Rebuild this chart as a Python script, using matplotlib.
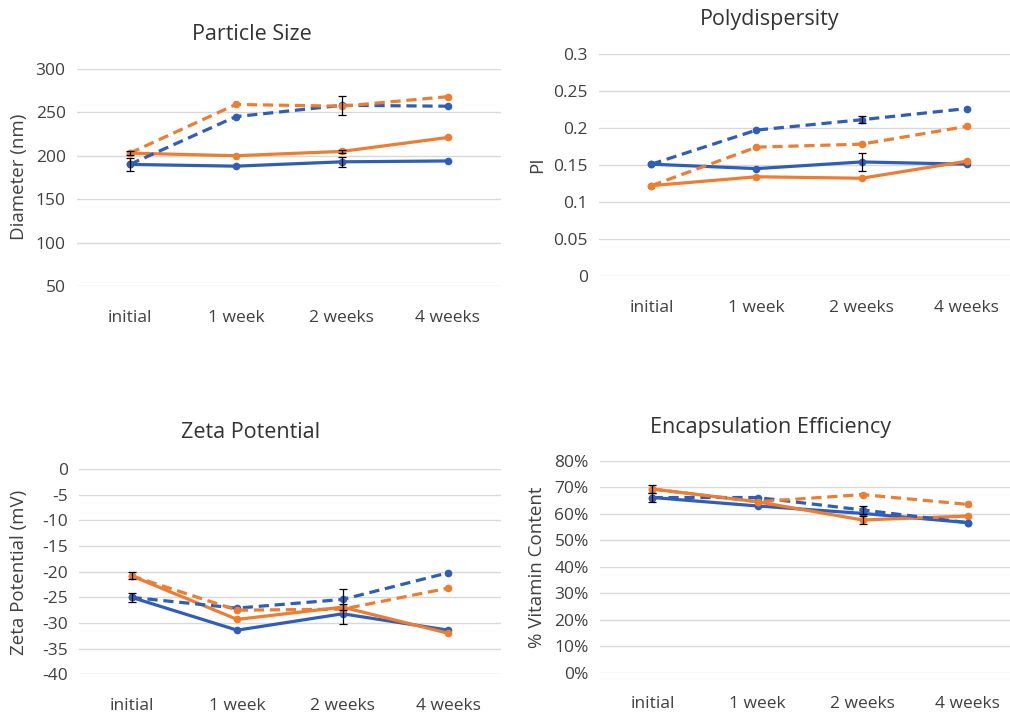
import matplotlib.pyplot as plt
from matplotlib.ticker import FuncFormatter

plt.rcParams['font.family'] = ['Open Sans', 'DejaVu Sans']
plt.rcParams['axes.unicode_minus'] = False

# time points
labels = ["initial", "1 week", "2 weeks", "4 weeks"]

# particle size (nm)
size_blue = [190, 188, 193, 194]
size_orange = [203, 200, 205, 221]
size_blue_d = [190, 245, 258, 257]
size_orange_d = [203, 259, 257, 268]
size_blue_err = [7, 0, 6, 0]
size_orange_err = [0, 0, 2, 0]
size_blue_d_err = [0, 0, 11, 0]
size_orange_d_err = [2, 0, 0, 0]

# polydispersity
pi_blue = [0.151, 0.145, 0.154, 0.151]
pi_orange = [0.122, 0.134, 0.132, 0.155]
pi_blue_d = [0.151, 0.197, 0.211, 0.226]
pi_orange_d = [0.122, 0.174, 0.178, 0.202]
pi_blue_err = [0, 0, 0.012, 0]
pi_orange_err = [0, 0, 0, 0]
pi_blue_d_err = [0, 0, 0.005, 0]
pi_orange_d_err = [0, 0, 0, 0]

# zeta potential (mV)
zeta_blue = [-25.0, -31.4, -28.2, -31.4]
zeta_orange = [-20.8, -29.3, -26.9, -32.0]
zeta_blue_d = [-25.0, -27.1, -25.4, -20.2]
zeta_orange_d = [-20.8, -27.5, -27.3, -23.2]
zeta_blue_err = [0.9, 0, 2.0, 0]
zeta_orange_err = [0.7, 0, 0, 0]
zeta_blue_d_err = [0, 0, 2.0, 0]
zeta_orange_d_err = [0, 0, 0, 0]

# encapsulation efficiency (fraction)
ee_blue = [0.662, 0.630, 0.602, 0.567]
ee_orange = [0.694, 0.646, 0.577, 0.592]
ee_blue_d = [0.662, 0.662, 0.615, 0.567]
ee_orange_d = [0.694, 0.646, 0.673, 0.636]
ee_blue_err = [0.018, 0, 0, 0]
ee_orange_err = [0.016, 0, 0.014, 0]
ee_blue_d_err = [0, 0, 0.014, 0]
ee_orange_d_err = [0, 0, 0, 0]

blue = "#2F5EBA"
orange = "#ED7D31"
grey = "#404040"

fig = plt.figure(figsize=(10.1, 7.17), dpi=100)


def panel(rect, series, ylim, ticks, fmt=None):
    ax = fig.add_axes(rect)
    x = list(range(len(labels)))
    for vals, err, color, ls in series:
        ax.plot(x, vals, color=color, lw=2.3, ls=ls, marker="o", ms=4.5,
                dashes=(3.2, 1.8) if ls == "--" else (None, None), zorder=3)
        # only points that have an error bar
        ex = [i for i in x if err[i] > 0]
        if ex:
            ax.errorbar(ex, [vals[i] for i in ex], yerr=[err[i] for i in ex],
                        fmt="none", ecolor="black", elinewidth=0.9,
                        capsize=3, capthick=0.9, zorder=4)
    ax.set_xlim(-0.5, 3.5)
    ax.set_ylim(*ylim)
    ax.set_yticks(ticks)
    if fmt:
        ax.yaxis.set_major_formatter(FuncFormatter(fmt))
    ax.set_xticks(x)
    ax.set_xticklabels(labels)
    ax.grid(axis="y", color="#D9D9D9", lw=1)
    ax.set_axisbelow(True)
    for s in ax.spines.values():
        s.set_visible(False)
    ax.tick_params(length=0, labelsize=12.5, labelcolor=grey)
    ax.tick_params(axis="x", pad=17)
    ax.tick_params(axis="y", pad=8)
    return ax


panel([0.076, 0.601, 0.42, 0.303],
      [(size_blue, size_blue_err, blue, "-"),
       (size_orange, size_orange_err, orange, "-"),
       (size_blue_d, size_blue_d_err, blue, "--"),
       (size_orange_d, size_orange_d_err, orange, "--")],
      (50, 300), range(50, 301, 50))

panel([0.593, 0.615, 0.416, 0.310],
      [(pi_blue, pi_blue_err, blue, "-"),
       (pi_orange, pi_orange_err, orange, "-"),
       (pi_blue_d, pi_blue_d_err, blue, "--"),
       (pi_orange_d, pi_orange_d_err, orange, "--")],
      (0, 0.3), [0, 0.05, 0.1, 0.15, 0.2, 0.25, 0.3],
      lambda v, p: f"{v:g}")

panel([0.078, 0.0596, 0.418, 0.286],
      [(zeta_blue, zeta_blue_err, blue, "-"),
       (zeta_orange, zeta_orange_err, orange, "-"),
       (zeta_blue_d, zeta_blue_d_err, blue, "--"),
       (zeta_orange_d, zeta_orange_d_err, orange, "--")],
      (-40, 0), range(-40, 1, 5))

panel([0.594, 0.062, 0.416, 0.295],
      [(ee_blue, ee_blue_err, blue, "-"),
       (ee_orange, ee_orange_err, orange, "-"),
       (ee_blue_d, ee_blue_d_err, blue, "--"),
       (ee_orange_d, ee_orange_d_err, orange, "--")],
      (0, 0.8), [i / 10 for i in range(9)],
      lambda v, p: f"{v:.0%}")

# titles
tkw = dict(ha="center", va="center", fontsize=15.5, color="#333333")
fig.text(252 / 1010, 1 - 35 / 717, "Particle Size", **tkw)
fig.text(770 / 1010, 1 - 20 / 717, "Polydispersity", **tkw)
fig.text(251 / 1010, 1 - 433 / 717, "Zeta Potential", **tkw)
fig.text(770 / 1010, 1 - 427 / 717, "Encapsulation Efficiency", **tkw)

# y axis titles
ykw = dict(rotation=90, ha="center", va="center", fontsize=13.5, color=grey)
fig.text(19 / 1010, 1 - 177 / 717, "Diameter (nm)", **ykw)
fig.text(537 / 1010, 1 - 165 / 717, "PI", **ykw)
fig.text(19 / 1010, 1 - 572 / 717, "Zeta Potential (mV)", **ykw)
fig.text(537 / 1010, 1 - 567 / 717, "% Vitamin Content", **ykw)

fig.savefig("out.png", dpi=100, facecolor="white")
